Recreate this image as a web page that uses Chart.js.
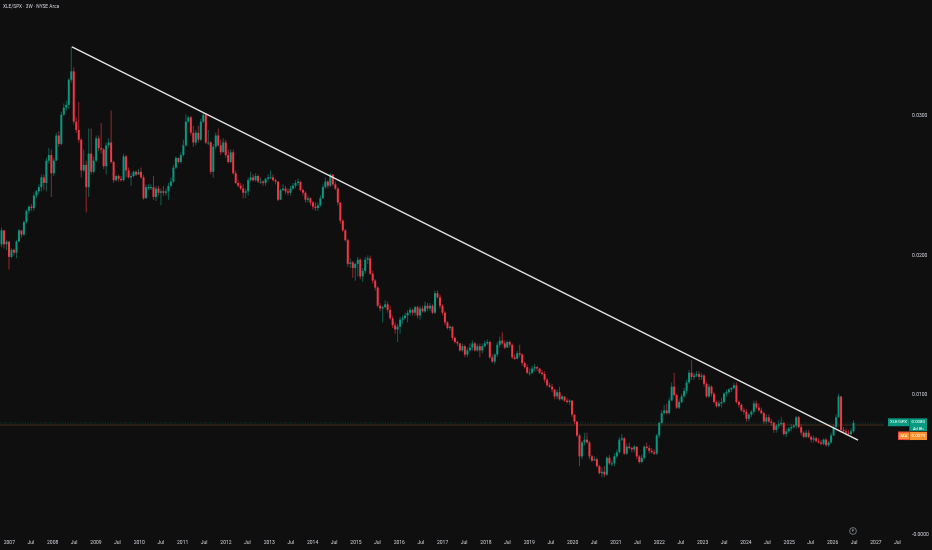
<!DOCTYPE html>
<html>
<head>
<meta charset="utf-8">
<title>XLE/SPX 3W</title>
<script src="https://cdn.jsdelivr.net/npm/chart.js@4.4.1/dist/chart.umd.min.js"></script>
<style>
  html, body { margin: 0; padding: 0; background: #0f0f0f; }
  #wrap { width: 932px; height: 550px; }
</style>
</head>
<body>
<div id="wrap"><canvas id="chart" width="932" height="550"></canvas></div>
<script>
/* global Chart */

const SERIES_TITLE = 'XLE/SPX · 3W · NYSE Arca';

// 3-week bars, first bar late Oct 2006 (decimal years on the x axis)
const T0 = 2006.82;
const STEP = 21 / 365.25;

// ratio values below are XLE/SPX x 10 000
const UNIT = 1e-4;
const FIRST_OPEN = 208;

const CLOSE = [
  218,208,210,199,204,202,210,218,215,224,
  232,235,234,243,246,249,256,252,268,272,
  259,268,286,280,301,306,308,326,332,296,
  290,283,261,265,249,273,260,268,284,277,
  276,264,279,281,267,254,257,255,254,271,
  261,256,257,260,258,260,256,241,249,249,
  249,242,248,245,246,245,246,250,253,263,
  270,267,272,279,296,299,288,281,288,283,
  296,301,281,281,260,278,286,279,274,281,
  272,267,274,259,252,250,248,245,246,254,
  256,254,257,253,253,252,255,256,256,254,
  253,240,247,248,246,245,248,250,252,253,
  247,245,240,241,238,235,234,236,241,249,
  253,250,258,251,248,238,225,218,211,194,
  195,191,194,197,185,189,197,198,187,182,
  177,164,162,163,165,161,155,150,147,149,
  154,155,157,159,161,159,163,157,162,160,
  164,162,164,159,173,170,164,159,152,148,
  149,141,138,137,132,135,129,132,134,137,
  132,135,132,135,137,138,127,124,129,136,
  139,137,134,138,136,127,126,130,129,123,
  120,116,116,119,120,119,116,115,111,107,
  106,104,99,102,97,99,96,95,96,86,
  81,71,56,66,68,66,56,53,54,49,
  44,45,43,55,51,51,56,59,68,69,
  58,63,62,61,63,56,52,55,63,62,
  60,59,58,71,80,87,89,87,96,106,
  100,91,95,99,103,109,116,113,114,115,
  113,114,108,99,106,101,95,92,94,95,
  101,102,104,105,107,95,93,89,88,83,
  86,88,94,91,89,87,81,84,81,80,
  75,78,79,80,72,74,76,77,78,84,
  77,73,70,73,70,68,69,67,66,65,
  68,64,66,71,77,84,99,75,74,73,
  72,74,80
];

const HIGH = [
  220,217,211,208,205,205,211,219,218,225,
  233,236,237,245,247,251,258,258,270,277,
  276,270,288,289,303,309,311,327,350,335,
  299,310,284,276,268,291,291,271,286,286,
  295,277,281,284,304,268,258,258,257,273,
  272,263,259,261,261,262,263,258,251,251,
  251,257,250,250,248,250,248,252,256,265,
  271,270,274,283,301,300,300,293,290,293,
  298,302,302,290,282,280,288,291,283,284,
  283,276,276,276,261,254,252,251,248,256,
  260,258,259,258,256,254,256,258,261,258,
  255,253,248,251,250,248,250,252,254,255,
  251,248,246,243,242,239,238,238,243,251,
  256,254,259,258,253,249,238,226,219,212,
  198,196,195,199,198,191,199,200,200,189,
  183,178,166,164,168,167,164,157,152,151,
  156,157,159,161,163,162,164,164,164,164,
  167,166,166,165,175,175,172,165,160,153,
  150,149,142,139,137,137,136,134,137,139,
  138,137,137,137,139,140,139,129,130,138,
  142,145,139,139,139,137,129,132,136,130,
  124,122,119,121,122,121,119,118,117,112,
  109,108,104,104,106,100,99,98,97,95,
  86,79,72,67,73,73,67,57,56,55,
  50,48,49,56,57,53,58,61,70,72,
  70,65,66,63,64,63,57,57,64,66,
  64,62,61,72,81,89,93,94,98,109,
  116,101,97,101,105,111,118,125,116,117,
  117,116,115,109,108,107,102,96,96,98,
  102,104,105,106,109,109,96,94,91,90,
  87,89,96,96,94,91,88,86,86,83,
  81,79,82,84,81,76,77,79,79,85,
  85,79,74,75,75,71,71,70,69,68,
  69,69,67,73,79,86,101,99,77,76,
  75,76,82
];

const LOW = [
  206,205,204,190,198,200,198,210,213,214,
  223,230,232,232,241,244,246,247,246,266,
  242,257,272,278,279,300,304,305,324,294,
  288,281,256,260,231,242,258,259,267,275,
  273,262,258,277,266,252,253,253,253,253,
  256,255,250,256,257,258,255,240,242,247,
  247,240,239,243,236,243,243,240,249,252,
  262,266,266,271,278,295,286,278,279,281,
  282,295,280,279,258,256,276,278,272,274,
  270,266,266,258,251,249,247,241,241,243,
  253,253,253,252,251,250,250,253,255,253,
  251,239,240,246,244,243,243,247,248,250,
  246,243,238,238,236,233,232,232,235,241,
  248,248,249,250,247,236,223,217,210,192,
  191,184,182,185,183,181,187,194,186,180,
  175,163,160,152,162,159,154,148,144,138,
  144,151,154,152,157,157,157,155,154,159,
  159,160,160,158,158,169,162,157,150,147,
  146,139,137,135,131,131,127,127,131,132,
  131,131,127,130,134,136,126,123,122,127,
  134,136,133,134,134,126,125,126,127,121,
  119,115,114,115,117,117,115,114,109,106,
  105,102,97,97,96,96,95,94,93,84,
  79,70,49,54,64,65,54,52,53,48,
  43,41,41,42,50,49,49,55,58,67,
  57,57,61,59,59,54,51,51,54,61,
  58,58,57,57,69,79,86,86,86,96,
  99,90,90,94,98,101,108,111,111,113,
  111,111,106,98,98,99,94,91,91,91,
  94,99,101,102,104,94,91,88,86,81,
  81,84,86,90,88,86,79,79,80,78,
  73,73,76,78,71,70,73,74,76,76,
  76,71,69,69,69,66,66,66,65,64,
  64,63,63,65,71,76,84,73,73,71,
  71,71,73
];

// hand-drawn trend line: 2008 high to mid 2026
const TREND_T = [2008.447, 2026.587];
const TREND_V = [349.5, 67.7];

const YEARS = [2007,2008,2009,2010,2011,2012,2013,2014,2015,2016,2017,
  2018,2019,2020,2021,2022,2023,2024,2025,2026,2027];
const JUL = 0.496;
const PRICE_TICKS = [0, 100, 200, 300];

const LAST_PRICE = 80;
const MA_PRICE = 78.5;
const LAST_TEXT = '0.0080';
const MA_TEXT = '0.0079';
const COUNTDOWN = '4d 8h';

const X_MIN = 2006.785, X_MAX = 2027.187;
const Y_MIN = -1.05, Y_MAX = 383.15;

const UP = '#089981', DOWN = '#f23645';
const UP_WICK = 'rgba(8,153,129,0.6)', DOWN_WICK = 'rgba(242,54,69,0.6)';
const TEXT = '#d1d4dc';
const FONT = 'Roboto, "DejaVu Sans", sans-serif';

function buildCandles() {
  const t = CLOSE.map((_, i) => T0 + i * STEP);
  const open = CLOSE.map((c, i) => (i === 0 ? FIRST_OPEN : CLOSE[i - 1]));
  const up = CLOSE.map((c, i) => c >= open[i]);
  const bodies = CLOSE.map((c, i) => ({ x: t[i], y: [open[i] * UNIT, c * UNIT] }));
  const wicks = CLOSE.map((c, i) => ({
    x: t[i],
    y: [Math.min(LOW[i], open[i], c) * UNIT, Math.max(HIGH[i], open[i], c) * UNIT]
  }));
  return {
    bodies,
    wicks,
    bodyColors: up.map(u => (u ? UP : DOWN)),
    wickColors: up.map(u => (u ? UP_WICK : DOWN_WICK))
  };
}

const overlay = {
  id: 'overlay',
  beforeDraw(chart) {
    const c = chart.ctx;
    c.save();
    c.fillStyle = '#0f0f0f';
    c.fillRect(0, 0, chart.width, chart.height);
    c.restore();
  },
  beforeDatasetsDraw(chart) {
    const c = chart.ctx;
    const y = chart.scales.y;
    const a = chart.chartArea;
    c.save();
    c.strokeStyle = 'rgba(120,75,35,0.35)';
    c.lineWidth = 1.4;
    const ym = y.getPixelForValue(MA_PRICE * UNIT);
    c.beginPath(); c.moveTo(a.left, ym); c.lineTo(a.right, ym); c.stroke();
    c.strokeStyle = 'rgba(8,153,129,0.45)';
    c.lineWidth = 0.7;
    c.setLineDash([1, 1.5]);
    const yl = y.getPixelForValue(LAST_PRICE * UNIT);
    c.beginPath(); c.moveTo(a.left, yl); c.lineTo(a.right, yl); c.stroke();
    c.restore();
  },
  afterDraw(chart) {
    const c = chart.ctx;
    const x = chart.scales.x;
    const y = chart.scales.y;
    c.save();

    // header
    c.fillStyle = TEXT;
    c.font = `4.8px ${FONT}`;
    c.textBaseline = 'middle';
    c.textAlign = 'left';
    c.fillText(SERIES_TITLE, 3, 6.7);

    // last Jul label sits under the price scale
    c.font = `5px ${FONT}`;
    c.textAlign = 'center';
    c.fillText('Jul', x.getPixelForValue(YEARS[YEARS.length - 1] + JUL), 543);

    // last price tag
    const yl = y.getPixelForValue(LAST_PRICE * UNIT);
    c.fillStyle = UP;
    c.fillRect(888, yl - 4.6, 21, 7.9);
    c.fillRect(909.3, yl - 4.6, 17.7, 12.6);
    c.fillStyle = '#ffffff';
    c.font = `4.3px ${FONT}`;
    c.fillText('XLE/SPX', 898.5, yl - 0.6);
    c.fillText(LAST_TEXT, 918.2, yl - 0.6);
    c.fillText(COUNTDOWN, 918.2, yl + 5.6);

    // second tag (orange)
    const yo = yl + 13;
    c.fillStyle = '#f5922f';
    c.fillRect(898, yo - 4.2, 29, 8.3);
    c.strokeStyle = DOWN;
    c.lineWidth = 0.8;
    c.strokeRect(898.4, yo - 3.8, 11, 7.5);
    c.fillStyle = '#ffffff';
    c.fillText('MA', 903.9, yo);
    c.fillText(MA_TEXT, 918.2, yo);

    // event marker near the time axis
    c.strokeStyle = '#9aa0a6';
    c.lineWidth = 0.7;
    c.beginPath();
    c.arc(853, 531, 3.4, 0, Math.PI * 2);
    c.stroke();
    c.fillStyle = '#c0c4cc';
    c.font = `4px ${FONT}`;
    c.fillText('F', 853, 531.2);

    c.restore();
  }
};

function init() {
  const d = buildCandles();
  const ctx = document.getElementById('chart').getContext('2d');

  // eslint-disable-next-line no-new
  new Chart(ctx, {
    type: 'bar',
    data: {
      datasets: [
        {
          type: 'bar',
          data: d.wicks,
          backgroundColor: d.wickColors,
          grouped: false,
          barPercentage: 1,
          maxBarThickness: 1,
          order: 3
        },
        {
          type: 'bar',
          data: d.bodies,
          backgroundColor: d.bodyColors,
          grouped: false,
          barPercentage: 1,
          maxBarThickness: 2,
          minBarLength: 1,
          order: 2
        },
        {
          type: 'line',
          data: TREND_T.map((t, i) => ({ x: t, y: TREND_V[i] * UNIT })),
          borderColor: '#e6e6e6',
          borderWidth: 1.3,
          pointRadius: 0,
          order: 1
        }
      ]
    },
    options: {
      responsive: false,
      animation: false,
      layout: { padding: 0 },
      plugins: { legend: { display: false }, tooltip: { enabled: false } },
      scales: {
        x: {
          type: 'linear',
          min: X_MIN,
          max: X_MAX,
          offset: false,
          grid: { display: false, drawTicks: false },
          border: { display: false },
          afterBuildTicks(s) {
            const ticks = [];
            YEARS.forEach(yr => {
              ticks.push({ value: yr });
              if (yr + JUL <= X_MAX) ticks.push({ value: yr + JUL });
            });
            s.ticks = ticks;
          },
          afterFit(s) { s.height = 14; s.paddingLeft = 0; s.paddingRight = 0; },
          ticks: {
            autoSkip: false,
            maxRotation: 0,
            minRotation: 0,
            padding: 4,
            color: TEXT,
            font: { family: FONT, size: 5 },
            callback: v => (Math.abs(v - Math.round(v)) < 0.01 ? String(Math.round(v)) : 'Jul')
          }
        },
        y: {
          type: 'linear',
          position: 'right',
          stacked: false,
          min: Y_MIN * UNIT,
          max: Y_MAX * UNIT,
          grid: { display: false, drawTicks: false },
          border: { display: false },
          afterBuildTicks(s) { s.ticks = PRICE_TICKS.map(v => ({ value: v * UNIT })); },
          afterFit(s) { s.width = 48; s.paddingTop = 0; s.paddingBottom = 0; },
          ticks: {
            padding: 28,
            color: TEXT,
            font: { family: FONT, size: 5 },
            callback: v => (v === 0 ? '-0.0000' : v.toFixed(4))
          }
        }
      }
    },
    plugins: [overlay]
  });
}

document.addEventListener('DOMContentLoaded', init);
</script>
</body>
</html>
